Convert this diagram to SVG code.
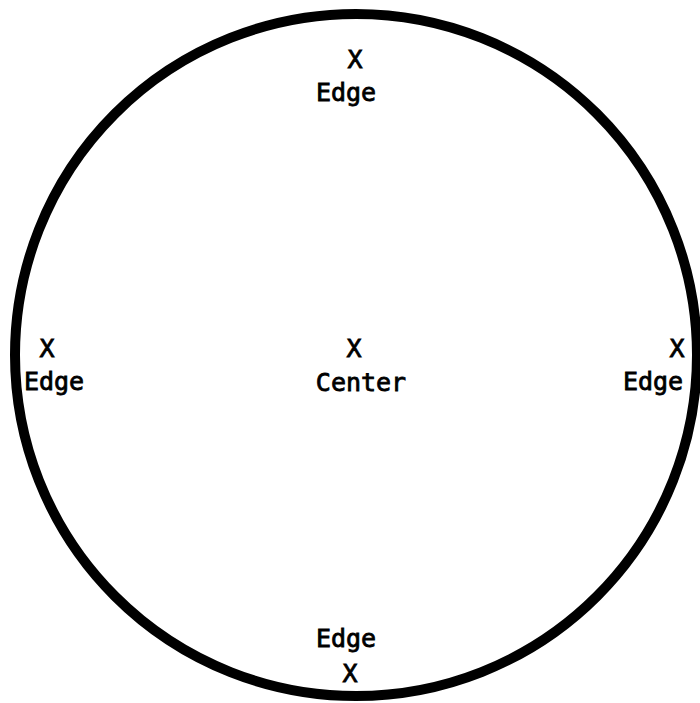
<svg xmlns="http://www.w3.org/2000/svg" width="700" height="703" viewBox="0 0 700 703">
<style>
text{font-family:"DejaVu Sans Mono","Liberation Mono",monospace;font-size:25px;fill:#000;stroke:#000;stroke-width:0.8;text-anchor:middle}
.ring{fill:none;stroke:#000;stroke-width:10}
</style>
<rect width="700" height="703" fill="#fff"/>
<g id="wafer"><circle class="ring" cx="356" cy="355" r="341"/></g>
<g id="connectors"></g>
<g id="edge-top"><text x="355" y="68">X</text><text x="346" y="101">Edge</text></g>
<g id="edge-left"><text x="47" y="357">X</text><text x="54" y="390">Edge</text></g>
<g id="center"><text x="354" y="357">X</text><text x="361" y="391">Center</text></g>
<g id="edge-right"><text x="677" y="357">X</text><text x="653" y="390">Edge</text></g>
<g id="edge-bottom"><text x="346" y="647">Edge</text><text x="350" y="682">X</text></g>
</svg>
